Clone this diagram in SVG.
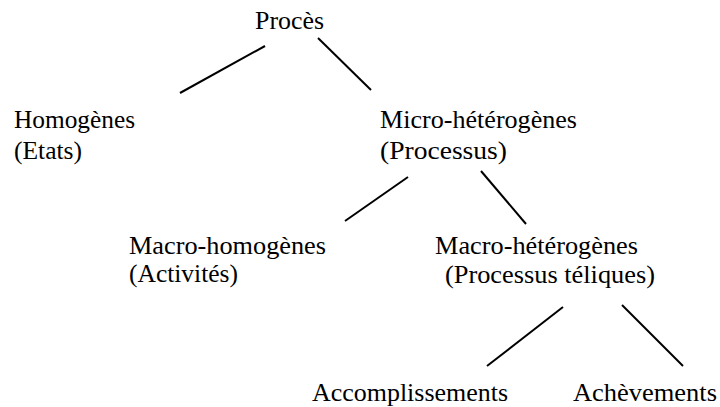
<svg xmlns="http://www.w3.org/2000/svg" width="720" height="407" viewBox="0 0 720 407">
<style>
text{font-family:"Liberation Serif","Times New Roman",serif;font-size:26px;fill:#000}
.c line{stroke:#000;stroke-width:2;stroke-linecap:butt}
</style>
<rect width="720" height="407" fill="#fff"/>
<g class="c" id="connectors">
<line x1="265" y1="46" x2="180" y2="93"/>
<line x1="318" y1="38" x2="371" y2="90"/>
<line x1="408" y1="177" x2="345" y2="221"/>
<line x1="481" y1="171" x2="526" y2="224"/>
<line x1="563" y1="307" x2="487" y2="366"/>
<line x1="622" y1="305" x2="683" y2="366"/>
</g>
<g id="proces"><text x="255" y="29" textLength="69" lengthAdjust="spacingAndGlyphs">Procès</text></g>
<g id="homogenes">
<text x="14" y="128" textLength="121" lengthAdjust="spacingAndGlyphs">Homogènes</text>
<text x="14" y="159" textLength="68" lengthAdjust="spacingAndGlyphs">(Etats)</text>
</g>
<g id="micro-heterogenes">
<text x="380" y="128" textLength="197" lengthAdjust="spacingAndGlyphs">Micro-hétérogènes</text>
<text x="380" y="159" textLength="127" lengthAdjust="spacingAndGlyphs">(Processus)</text>
</g>
<g id="macro-homogenes">
<text x="129" y="254" textLength="197" lengthAdjust="spacingAndGlyphs">Macro-homogènes</text>
<text x="129" y="282" textLength="109" lengthAdjust="spacingAndGlyphs">(Activités)</text>
</g>
<g id="macro-heterogenes">
<text x="435" y="254" textLength="203" lengthAdjust="spacingAndGlyphs">Macro-hétérogènes</text>
<text x="445" y="283" textLength="210" lengthAdjust="spacingAndGlyphs">(Processus téliques)</text>
</g>
<g id="accomplissements"><text x="312" y="401" textLength="196" lengthAdjust="spacingAndGlyphs">Accomplissements</text></g>
<g id="achevements"><text x="573" y="401" textLength="144" lengthAdjust="spacingAndGlyphs">Achèvements</text></g>
</svg>
